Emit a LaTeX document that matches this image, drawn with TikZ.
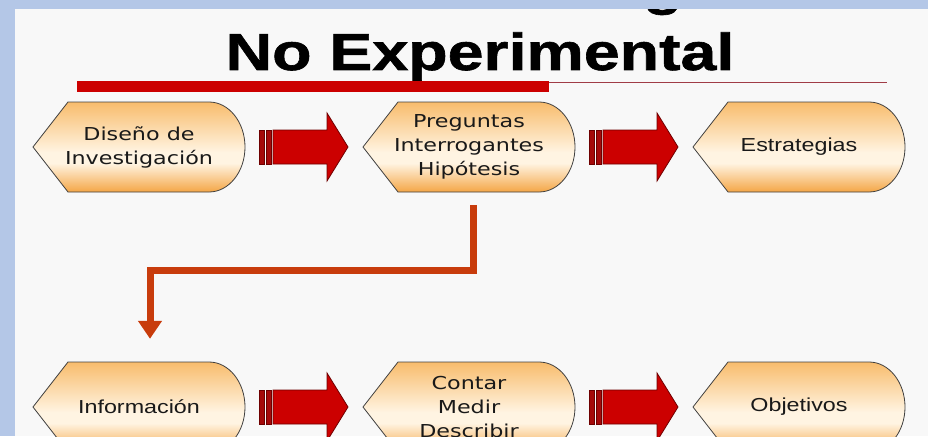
\documentclass[tikz,border=0pt]{standalone}
\usepackage{fontspec}
\usepackage{tikz}
\usetikzlibrary{arrows.meta,calc}

\newfontfamily\titlefont[FakeStretch=1.24,FakeBold=1.2]{Liberation Sans}
\newfontfamily\verdfont[FakeStretch=1.25]{DejaVu Sans}
\newfontfamily\arialfont[FakeStretch=1.24]{Liberation Sans}

\definecolor{frameblue}{RGB}{180,199,231}
\definecolor{pagegrey}{RGB}{248,248,248}
\definecolor{barred}{RGB}{204,0,0}
\definecolor{thinred}{RGB}{160,60,70}
\definecolor{tagtop}{RGB}{248,188,108}
\definecolor{taglight}{RGB}{255,244,226}
\definecolor{tagbot}{RGB}{244,166,70}
\definecolor{arrowred}{RGB}{204,0,0}
\definecolor{arrowdark}{RGB}{110,0,0}
\definecolor{stemred}{RGB}{165,10,10}
\definecolor{connred}{RGB}{200,60,12}

\pgfdeclareverticalshading{tagshade}{100bp}{color(0bp)=(tagbot); color(25bp)=(tagbot); color(41bp)=(taglight); color(47bp)=(taglight); color(75bp)=(tagtop); color(100bp)=(tagtop)}

\tikzset{
    tagline/.style = {draw = black!75, line width = 0.8pt, shading = tagshade},
    tagtext/.style = {minimum width = 212pt, minimum height = 90pt, inner sep = 0pt, align = center, text = black!90},
    verdtext/.style = {tagtext, font = \verdfont\fontsize{17.8}{24}\selectfont},
    arialtext/.style = {tagtext, font = \arialfont\fontsize{18.8}{24}\selectfont},
    conn/.style = {draw = connred, line width = 7pt, -{Triangle[width = 23pt, length = 18pt]}},
    tag/.pic = {
        \path [tagline] (-106,0) -- (-71,-45) -- (70,-45) arc (-90:90:36 and 45) -- (-71,45) -- cycle;
    },
    blockarrow/.pic = {
        \draw [fill = stemred, draw = arrowdark, line width = 0.6pt] (-45,-17) rectangle (-40,17);
        \draw [fill = stemred, draw = arrowdark, line width = 0.6pt] (-38,-17) rectangle (-33,17);
        \draw [fill = arrowred, draw = arrowdark, line width = 0.8pt] (-31,-17) -- (23,-17) -- (23,-34) -- (44,0) -- (23,34) -- (23,17) -- (-31,17) -- cycle;
    }
}

\begin{document}
\begin{tikzpicture}[x = 1pt, y = -1pt]
        \useasboundingbox (0,0) rectangle (928,436);
        \fill [pagegrey] (0,0) rectangle (928,436);
        
        % title
        \node [font = \titlefont\bfseries\fontsize{52}{52}\selectfont, anchor = base] (gpart) at (663,4) {g};
        \node [font = \titlefont\bfseries\fontsize{52}{52}\selectfont, anchor = base] (title) at (480,70) {No Experimental};
        \fill [barred] (77,81) rectangle (549,92);
        \draw [thinred, line width = 1pt] (549,82) -- (887,82);
        
        % frame
        \fill [frameblue] (0,0) rectangle (928,9);
        \fill [frameblue] (0,0) rectangle (15,436);
        
        % first row
        \pic at (139,147) {tag};
        \node [verdtext] (dis) at (139,147) {Diseño de\\Investigación};
        \pic at (469,147) {tag};
        \node [verdtext] (preg) at (469,147) {Preguntas\\Interrogantes\\Hipótesis};
        \pic at (799,147) {tag};
        \node [arialtext] (estr) at (799,147) {Estrategias};
        
        % second row
        \pic at (139,407) {tag};
        \node [arialtext] (info) at (139,407) {Información};
        \pic at (469,407) {tag};
        \node [verdtext] (cont) at (469,407) {Contar\\Medir\\Describir};
        \pic at (799,407) {tag};
        \node [arialtext] (obj) at (799,407) {Objetivos};
        
        % block arrows
        \pic at ($(dis.east)!0.5!(preg.west)$) {blockarrow};
        \pic at ($(preg.east)!0.5!(estr.west)$) {blockarrow};
        \pic at ($(info.east)!0.5!(cont.west)$) {blockarrow};
        \pic at ($(cont.east)!0.5!(obj.west)$) {blockarrow};
        
        \draw [conn, shorten < = 13pt, shorten > = 23pt] ([xshift = 4pt]preg.south) -- ++(0,78) -| ([xshift = 11pt]info.north);
    \end{tikzpicture}
\end{document}
